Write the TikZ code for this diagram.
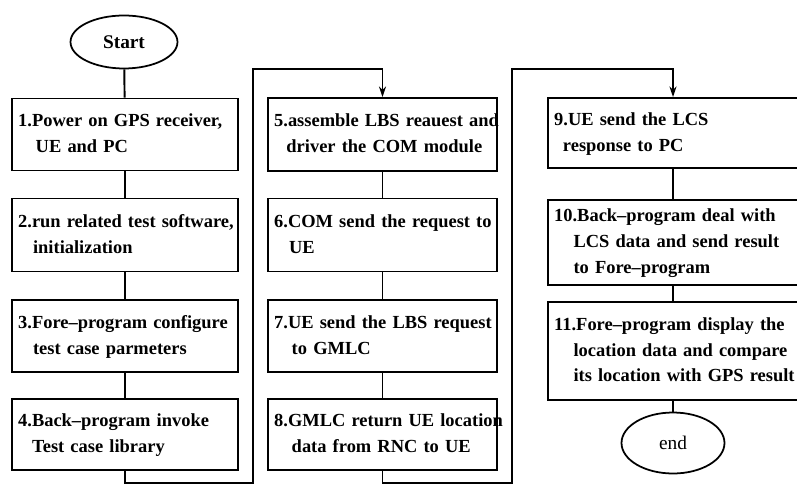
\documentclass[tikz,border=0pt]{standalone}
\usepackage{fontspec}
\setmainfont{Liberation Serif}
\usetikzlibrary{arrows.meta,shapes.geometric}

% lines of a step, kept from breaking
\newcommand{\steptext}[1]{\begin{tabular}{@{}l@{}}#1\end{tabular}}

\tikzset{
  stepbox/.style={draw, line width=1.1pt, align=left, inner xsep=3.5pt, inner ysep=2pt,
    font=\fontsize{10.5}{14.7}\selectfont\bfseries},
  terminal/.style={draw, ellipse, line width=1pt, inner sep=0pt, font=\fontsize{11}{13}\selectfont},
  flow/.style={line width=1.1pt},
}

\begin{document}
\begin{tikzpicture}[x=0.02cm, y=-0.02cm]
  \useasboundingbox (0,0) rectangle (797,486);

  % left column
  \node[terminal, minimum width=2.14cm, minimum height=1.06cm] (start) at (124,42) {\bfseries Start};
  \node[stepbox, minimum width=4.52cm, text width=4.52cm-7pt, minimum height=1.44cm] (b1) at (125,134.5)
    {\steptext{1.Power on GPS receiver,\\\hspace*{10pt}UE and PC}};
  \node[stepbox, minimum width=4.52cm, text width=4.52cm-7pt, minimum height=1.46cm] (b2) at (125,235)
    {\steptext{2.run related test software,\\\hspace*{8.5pt}initialization}};
  \node[stepbox, minimum width=4.52cm, text width=4.52cm-7pt, minimum height=1.44cm] (b3) at (125,336)
    {\steptext{3.Fore--program configure\\\hspace*{8.5pt}test case parmeters}};
  \node[stepbox, minimum width=4.52cm, text width=4.52cm-7pt, minimum height=1.42cm] (b4) at (125,434.5)
    {\steptext{4.Back--program invoke\\\hspace*{8pt}Test case library}};

  % middle column
  \node[stepbox, minimum width=4.58cm, text width=4.58cm-7pt, minimum height=1.46cm] (b5) at (382.5,134.5)
    {\steptext{5.assemble LBS reauest and\\\hspace*{7pt}driver the COM module}};
  \node[stepbox, minimum width=4.58cm, text width=4.58cm-7pt, minimum height=1.46cm] (b6) at (382.5,235)
    {\steptext{6.COM send the request to\\\hspace*{8.5pt}UE}};
  \node[stepbox, minimum width=4.58cm, text width=4.58cm-7pt, minimum height=1.44cm] (b7) at (382.5,336)
    {\steptext{7.UE send the LBS request\\\hspace*{10pt}to GMLC}};
  \node[stepbox, minimum width=4.58cm, text width=4.58cm-7pt, minimum height=1.42cm] (b8) at (382.5,434.5)
    {\steptext{8.GMLC return UE location\\\hspace*{10pt}data from RNC to UE}};

  % right column
  \node[stepbox, minimum width=5.0cm, text width=5.0cm-7pt, minimum height=1.40cm] (b9) at (673,133)
    {\steptext{9.UE send the LCS\\\hspace*{5pt}response to PC}};
  \node[stepbox, minimum width=5.0cm, text width=5.0cm-7pt, minimum height=1.70cm] (b10) at (673,242.5)
    {\steptext{10.Back--program deal with\\\hspace*{11pt}LCS data and send result\\\hspace*{11pt}to Fore--program}};
  \node[stepbox, minimum width=5.0cm, text width=5.0cm-7pt, minimum height=1.96cm] (b11) at (673,351)
    {\steptext{11.Fore--program display the\\\hspace*{11pt}location data and compare\\\hspace*{11pt}its location with GPS result}};
  \node[terminal, minimum width=2.06cm, minimum height=1.22cm] (stop) at (673,443) {end};

  % turning points
  \coordinate (lowA) at (253,483);
  \coordinate (highA) at (253,69);
  \coordinate (lowB) at (512,483);
  \coordinate (highB) at (512,69);

  % connectors
  \draw[flow] (start) -- (b1);
  \draw[flow] (b1) -- (b2);
  \draw[flow] (b2) -- (b3);
  \draw[flow] (b3) -- (b4);
  \draw[flow,-{Stealth[length=6pt,width=4pt]}] (b4.south) |- (lowA) -- (highA) -| (b5.north);
  \draw[flow] (b5) -- (b6);
  \draw[flow] (b6) -- (b7);
  \draw[flow] (b7) -- (b8);
  \draw[flow,-{Stealth[length=6pt,width=4pt]}] (b8.south) |- (lowB) -- (highB) -| (b9.north);
  \draw[flow] (b9) -- (b10);
  \draw[flow] (b10) -- (b11);
  \draw[flow] (b11) -- (stop);
\end{tikzpicture}
\end{document}
